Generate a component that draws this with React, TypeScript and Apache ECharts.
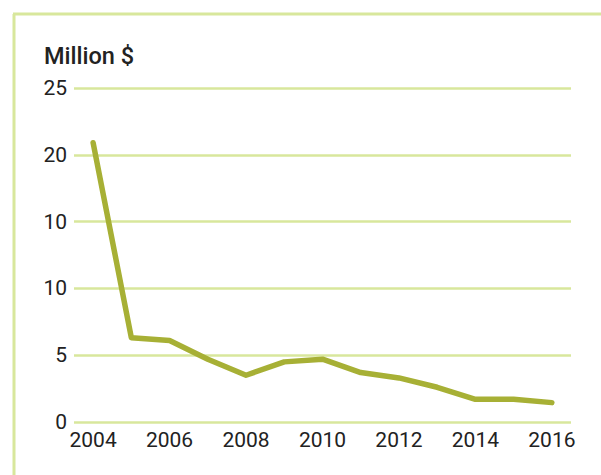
import React, { useEffect, useRef } from "react";
import * as echarts from "echarts";

const years = ["2004","2005","2006","2007","2008","2009","2010","2011","2012","2013","2014","2015","2016"];
const values = [20.9, 6.3, 6.1, 4.7, 3.5, 4.5, 4.7, 3.7, 3.3, 2.6, 1.7, 1.7, 1.45];
const yTickLabels: Record<number, string> = { 0: "0", 5: "5", 10: "10", 15: "10", 20: "20", 25: "25" };
const unitLabel = "Million $";

export default function App() {
  const ref = useRef<HTMLDivElement>(null);
  useEffect(() => {
    const chart = echarts.init(ref.current!, null, { renderer: "svg" });
    const font = "Roboto, 'DejaVu Sans', sans-serif";
    chart.setOption({
      animation: false,
      backgroundColor: "#ffffff",
      grid: { left: 74, right: 30, top: 88, bottom: 53, containLabel: false },
      graphic: [
        { type: "line", shape: { x1: 14, y1: 14, x2: 14, y2: 475 }, style: { stroke: "#d8e79c", lineWidth: 3 } },
        { type: "line", shape: { x1: 13, y1: 14, x2: 601, y2: 14 }, style: { stroke: "#d8e79c", lineWidth: 3 } },
        { type: "text", x: 44, y: 44, style: { text: unitLabel, font: `500 23.5px ${font}`, fill: "#222" } },
      ],
      xAxis: {
        type: "category",
        data: years,
        boundaryGap: true,
        axisLine: { show: false },
        axisTick: { show: false },
        axisLabel: { interval: 1, color: "#222", fontSize: 21, fontFamily: font, margin: 7 },
      },
      yAxis: {
        type: "value",
        min: 0,
        max: 25,
        interval: 5,
        axisLine: { show: false },
        axisTick: { show: false },
        axisLabel: {
          color: "#222",
          fontSize: 21,
          fontFamily: font,
          margin: 7,
          formatter: (v: number) => yTickLabels[v] ?? String(v),
        },
        splitLine: { lineStyle: { color: "#d8e79c", width: 2.5 } },
      },
      series: [
        {
          type: "line",
          data: values,
          symbol: "none",
          lineStyle: { color: "#a7b035", width: 5.5, cap: "round", join: "round" },
        },
      ],
    });
    return () => chart.dispose();
  }, []);
  return <div ref={ref} style={{ width: 601, height: 475, position: "absolute", left: 0, top: 0 }} />;
}
